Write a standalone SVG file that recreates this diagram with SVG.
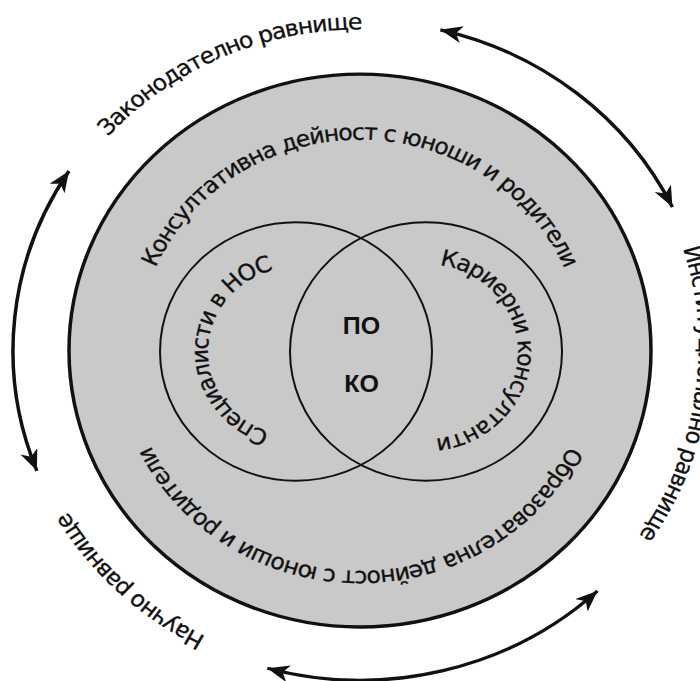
<svg xmlns="http://www.w3.org/2000/svg" width="700" height="681" viewBox="0 0 700 681">
  <style>
    .lbl { font-family: "DejaVu Sans", "Noto Sans", sans-serif; font-size: 23.5px; letter-spacing: -1.1px; fill: #111; stroke: #111; stroke-width: 0.35; }
    .core { font-family: "Liberation Sans", Arial, sans-serif; font-size: 25px; font-weight: bold; fill: #111; text-anchor: middle; }
    .ring { fill: none; stroke: #111; stroke-width: 2; }
    .arrow { fill: none; stroke: #111; stroke-width: 3.5; marker-start: url(#head); marker-end: url(#head); }
  </style>
  <defs>
    <marker id="head" markerUnits="userSpaceOnUse" markerWidth="24" markerHeight="20" refX="22" refY="9" orient="auto-start-reverse">
      <path d="M22,9 L0,0 L6,9 L0,18 Z" fill="#111"/>
    </marker>
    <path id="p-kons" d="M360,591 A222,222 0 1 1 360,147 A222,222 0 1 1 360,591"/>
    <path id="p-obr" d="M360,137 A232,232 0 1 1 360,601 A232,232 0 1 1 360,137"/>
    <path id="p-zak" d="M497.5,677.8 A338,338 0 1 1 222.5,60.2 A338,338 0 1 1 497.5,677.8"/>
    <path id="p-inst" d="M25.5,320.8 A338,338 0 1 1 694.5,417.2 A338,338 0 1 1 25.5,320.8"/>
    <path id="p-nauch" d="M592.3,123.4 A338,338 0 1 1 127.7,614.6 A338,338 0 1 1 592.3,123.4"/>
    <path id="p-spec" d="M386,371.6 A89,89 0 1 1 208,368.4 A89,89 0 1 1 386,371.6"/>
    <path id="p-kar" d="M334,368.4 A92,92 0 1 1 518,371.6 A92,92 0 1 1 334,368.4"/>
  </defs>
  <g transform="matrix(1 0 0 0.95 0 0)">
    <g id="outer-circle">
      <circle cx="360" cy="369" r="291" fill="#c9c9c9" stroke="#111" stroke-width="3.5"/>
      <text class="lbl"><textPath href="#p-kons" startOffset="50%" text-anchor="middle">Консултативна дейност с юноши и родители</textPath></text>
      <text class="lbl"><textPath href="#p-obr" startOffset="50%" text-anchor="middle">Образователна дейност с юноши и родители</textPath></text>
    </g>
    <g id="venn-left">
      <circle class="ring" cx="296" cy="370" r="136"/>
      <text class="lbl"><textPath href="#p-spec" startOffset="50%" text-anchor="middle">Специалисти в НОС</textPath></text>
    </g>
    <g id="venn-right">
      <circle class="ring" cx="426" cy="370" r="136"/>
      <text class="lbl"><textPath href="#p-kar" startOffset="50%" text-anchor="middle">Кариерни консултанти</textPath></text>
    </g>
    <g id="core">
      <text class="core" x="361.5" y="351.6">ПО</text>
      <text class="core" x="361.5" y="412.6">КО</text>
    </g>
    <g id="level-legislative">
      <text class="lbl"><textPath href="#p-zak" startOffset="50%" text-anchor="middle">Законодателно равнище</textPath></text>
    </g>
    <g id="level-institutional">
      <text class="lbl"><textPath href="#p-inst" startOffset="50%" text-anchor="middle">Институционално равнище</textPath></text>
    </g>
    <g id="level-scientific">
      <text class="lbl"><textPath href="#p-nauch" startOffset="50%" text-anchor="middle">Научно равнище</textPath></text>
    </g>
    <g id="connectors">
      <path class="arrow" d="M440.4,31.4 A347,347 0 0 1 672.4,218.0"/>
      <path class="arrow" d="M597.5,622 A347,347 0 0 1 267.3,703.4"/>
      <path class="arrow" d="M36.9,495.6 A347,347 0 0 1 69,180"/>
    </g>
  </g>
</svg>
